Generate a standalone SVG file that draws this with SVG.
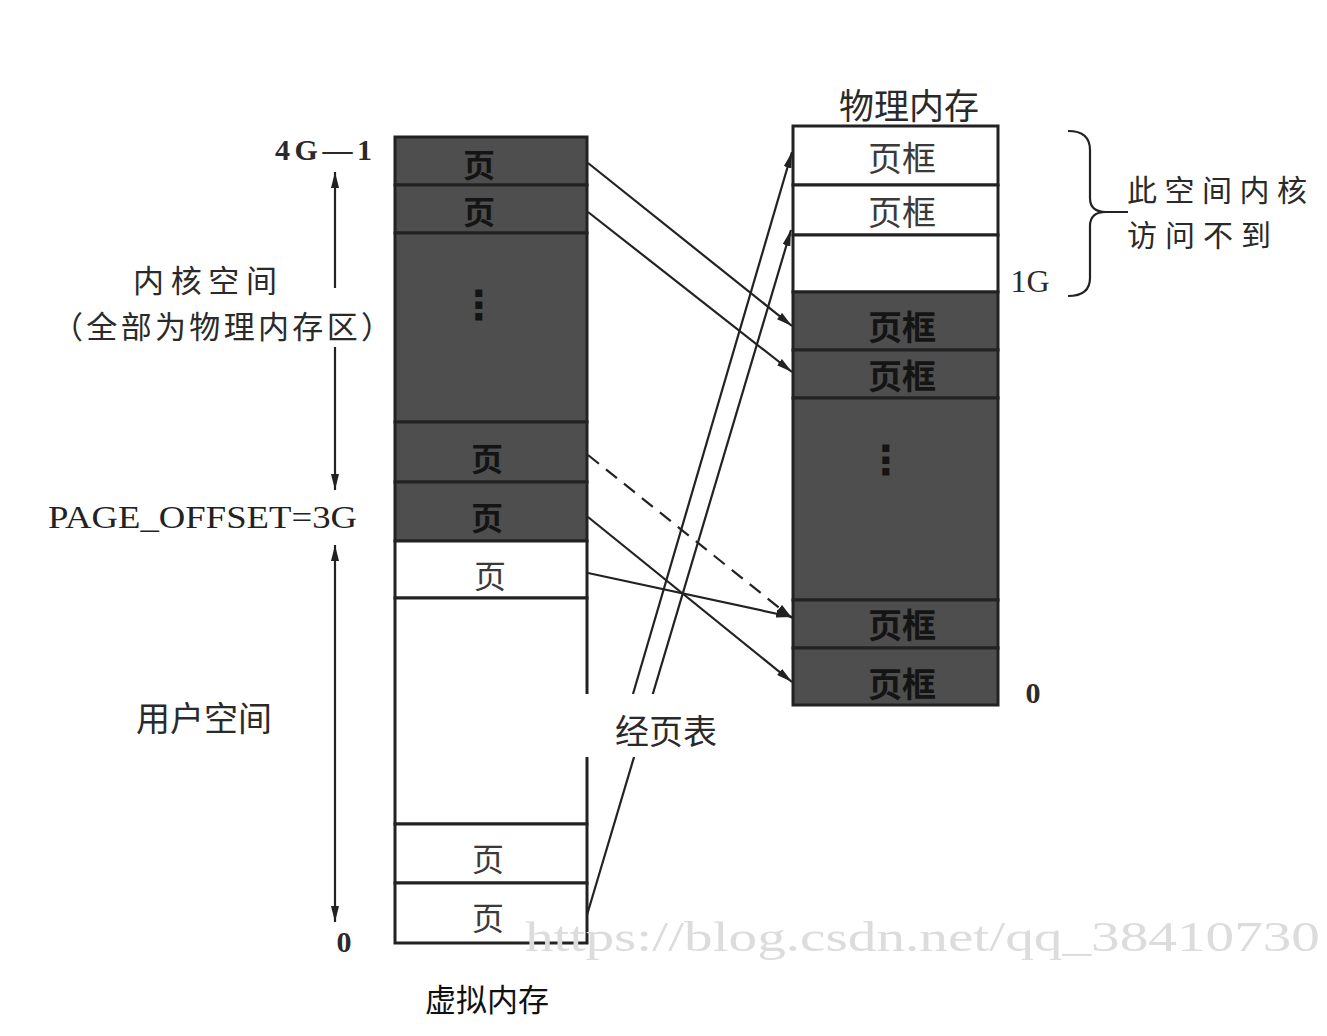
<svg xmlns="http://www.w3.org/2000/svg" width="1327" height="1036" viewBox="0 0 1327 1036">
<style>
.cell{stroke:#222;stroke-width:3}
.dark{fill:#4e4e4e}
.light{fill:#ffffff}
.cj{font-family:"Noto Sans CJK SC","Noto Sans",sans-serif;fill:#2a2a2a}
.pg{font-family:"Noto Sans CJK SC",sans-serif;font-size:32px;text-anchor:middle;dominant-baseline:central}
.pgd{fill:#141414;font-weight:bold}
.pgl{fill:#3a3a3a}
.lat{font-family:"Liberation Serif",serif;fill:#2a2a2a;font-weight:bold}
.dots{font-family:"DejaVu Sans",sans-serif;font-size:40px;font-weight:bold;text-anchor:middle;dominant-baseline:central;fill:#141414}
.conn{stroke:#222;stroke-width:2.2;fill:none}
</style>
<defs>
<marker id="ah" viewBox="0 0 16 8" refX="16" refY="4" markerWidth="16" markerHeight="8" orient="auto-start-reverse" markerUnits="userSpaceOnUse">
<path d="M0,0 L16,4 L0,8 z" fill="#222"/>
</marker>
</defs>
<rect width="1327" height="1036" fill="#fff"/>

<g id="virtual-memory">
<rect class="cell dark" x="395" y="137" width="192" height="48"/>
<rect class="cell dark" x="395" y="185" width="192" height="48"/>
<rect class="cell dark" x="395" y="233" width="192" height="189"/>
<rect class="cell dark" x="395" y="422" width="192" height="60"/>
<rect class="cell dark" x="395" y="482" width="192" height="59"/>
<rect class="cell light" x="395" y="541" width="192" height="57"/>
<rect class="cell light" x="395" y="598" width="192" height="226"/>
<rect class="cell light" x="395" y="824" width="192" height="59"/>
<rect class="cell light" x="395" y="883" width="192" height="60"/>
<text class="pg pgd" x="479" y="163">页</text>
<text class="pg pgd" x="479" y="210">页</text>
<text class="dots" x="479" y="305">⋮</text>
<text class="pg pgd" x="487" y="457">页</text>
<text class="pg pgd" x="487" y="516">页</text>
<text class="pg pgl" x="490" y="574">页</text>
<text class="pg pgl" x="488" y="857">页</text>
<text class="pg pgl" x="488" y="916">页</text>
</g>

<g id="physical-memory">
<rect class="cell light" x="793" y="126" width="205" height="59"/>
<rect class="cell light" x="793" y="185" width="205" height="50"/>
<rect class="cell light" x="793" y="235" width="205" height="57"/>
<rect class="cell dark" x="793" y="292" width="205" height="58"/>
<rect class="cell dark" x="793" y="350" width="205" height="48"/>
<rect class="cell dark" x="793" y="398" width="205" height="202"/>
<rect class="cell dark" x="793" y="600" width="205" height="48"/>
<rect class="cell dark" x="793" y="648" width="205" height="57"/>
<text class="pg pgl" x="902" y="156" style="font-size:34px">页框</text>
<text class="pg pgl" x="902" y="210" style="font-size:34px">页框</text>
<text class="pg pgd" x="902" y="325" style="font-size:34px">页框</text>
<text class="pg pgd" x="902" y="374" style="font-size:34px">页框</text>
<text class="dots" x="886" y="460">⋮</text>
<text class="pg pgd" x="902" y="623" style="font-size:34px">页框</text>
<text class="pg pgd" x="902" y="682" style="font-size:34px">页框</text>
</g>

<g id="connectors">
<path class="conn" d="M588,163 L792,326" marker-end="url(#ah)"/>
<path class="conn" d="M588,212 L792,372" marker-end="url(#ah)"/>
<path class="conn" d="M588,455 L792,618" stroke-dasharray="14,9" marker-end="url(#ah)"/>
<path class="conn" d="M588,517 L792,682" marker-end="url(#ah)"/>
<path class="conn" d="M588,573 L792,617" marker-end="url(#ah)"/>
<path class="conn" d="M587,915 L791,230" marker-end="url(#ah)"/>
<path class="conn" d="M633,694 L792,152" marker-end="url(#ah)"/>
<path class="conn" d="M335,288 L335,172" marker-end="url(#ah)"/>
<path class="conn" d="M335,347 L335,490" marker-end="url(#ah)"/>
<path class="conn" d="M335,545 L335,922" marker-start="url(#ah)" marker-end="url(#ah)"/>
<path class="conn" d="M1068,131 Q1090,131 1090,150 L1090,198 Q1090,212 1106,212 L1128,212 M1106,212 Q1090,212 1090,226 L1090,278 Q1090,296 1068,296"/>
</g>

<g id="page-table-label">
<rect x="584" y="694" width="154" height="63" fill="#fff"/>
<text class="cj" x="666" y="729" font-size="34" text-anchor="middle" dominant-baseline="central">经页表</text>
</g>

<g id="labels">
<text class="lat" x="275" y="160" font-size="30" textLength="97" lengthAdjust="spacing">4G—1</text>
<text class="cj" x="205" y="278" font-size="31" text-anchor="middle" dominant-baseline="central" textLength="144" lengthAdjust="spacing">内核空间</text>
<text class="cj" x="222" y="324" font-size="31" text-anchor="middle" dominant-baseline="central" textLength="340" lengthAdjust="spacing">（全部为物理内存区）</text>
<text class="lat" x="48" y="528" font-size="31" textLength="309" lengthAdjust="spacingAndGlyphs" style="font-weight:normal;fill:#222">PAGE_OFFSET=3G</text>
<text class="cj" x="204" y="716" font-size="34" text-anchor="middle" dominant-baseline="central">用户空间</text>
<text class="lat" x="344" y="941" font-size="30" text-anchor="middle" dominant-baseline="central">0</text>
<text x="487" y="997" font-family="Noto Sans CJK SC, sans-serif" font-size="31" fill="#111" text-anchor="middle" dominant-baseline="central">虚拟内存</text>
<text class="cj" x="909" y="103" font-size="35" text-anchor="middle" dominant-baseline="central">物理内存</text>
<text class="lat" x="1030" y="281" font-size="32" text-anchor="middle" dominant-baseline="central" style="font-weight:normal">1G</text>
<text class="lat" x="1033" y="692" font-size="30" text-anchor="middle" dominant-baseline="central">0</text>
<text class="cj" x="1127" y="188" font-size="30" dominant-baseline="central" textLength="180" lengthAdjust="spacing">此空间内核</text>
<text class="cj" x="1127" y="233" font-size="30" dominant-baseline="central" textLength="144" lengthAdjust="spacing">访问不到</text>
</g>

<text x="525" y="951" font-family="Liberation Serif, serif" font-size="42" fill="#dcdcdc" textLength="795" lengthAdjust="spacingAndGlyphs">https://blog.csdn.net/qq_38410730</text>
</svg>
